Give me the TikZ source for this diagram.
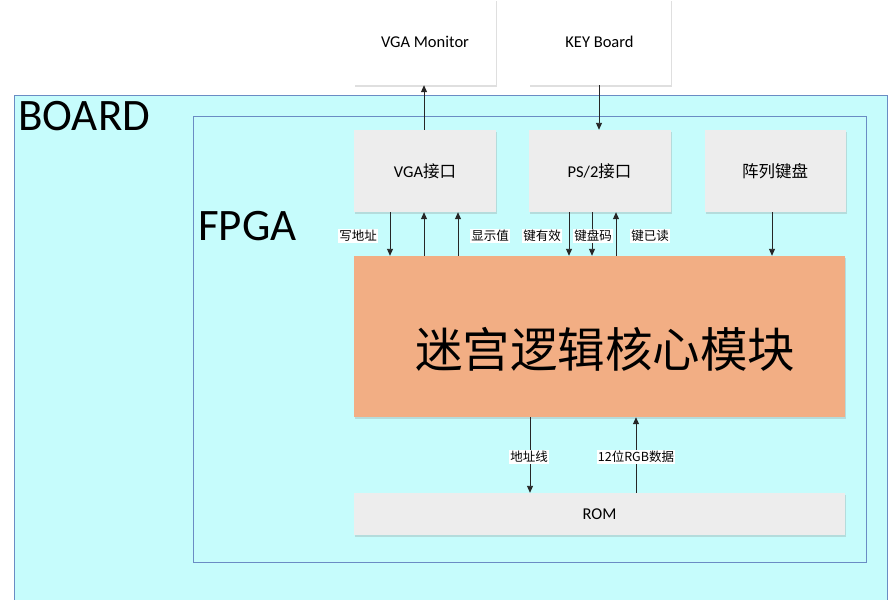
\documentclass[tikz,border=0pt]{standalone}
\usepackage{fontspec}
\setmainfont{Carlito}
\newfontfamily\cjk{Noto Sans CJK SC}
\usetikzlibrary{shadows,arrows.meta}
\definecolor{boardc}{HTML}{C6FCFC}
\definecolor{edgec}{HTML}{6A8CC4}
\definecolor{boxc}{HTML}{EDEDED}
\definecolor{corec}{HTML}{F2AE84}
\tikzset{
  blk/.style={draw=none, fill=boxc, drop shadow={shadow xshift=1pt, shadow yshift=-2pt, opacity=0.25}, inner sep=0pt, font=\fontsize{16.5}{18}\selectfont},
  wblk/.style={blk, fill=white},
  arr/.style={-{Triangle[length=7pt,width=6pt]}, line width=0.9pt, black!85},
  lab/.style={fill=white, inner sep=1pt, font=\cjk\fontsize{12.5}{14}\selectfont},
}
\begin{document}
\begin{tikzpicture}[x=1pt,y=-1pt]
\useasboundingbox (0,0) rectangle (895,600);
% board
\fill[boardc] (14,95) rectangle (887,600);
\draw[edgec, line width=0.8pt] (14,600) -- (14,95) -- (887,95) -- (887,600);
\node[anchor=west, font=\fontsize{45}{50}\selectfont, inner sep=0pt] (boardlab) at (18,116) {BOARD};
% fpga
\draw[edgec, line width=0.8pt] (193,116) rectangle (866,562);
\node[anchor=west, font=\fontsize{45}{50}\selectfont, inner sep=0pt] (fpgalab) at (198,226) {FPGA};
% external
\node[wblk, minimum width=142pt, minimum height=86pt] (mon) at (425,42) {VGA Monitor};
\node[wblk, minimum width=142pt, minimum height=86pt] (key) at (599.5,42) {KEY Board};
% interfaces
\node[blk, minimum width=142pt, minimum height=82pt] (vga) at (425,171) {VGA{\cjk 接口}};
\node[blk, minimum width=142pt, minimum height=82pt] (ps2) at (599.5,171) {PS/2{\cjk 接口}};
\node[blk, minimum width=141pt, minimum height=82pt, font=\cjk\fontsize{16.5}{18}\selectfont] (arr) at (775,171) {阵列键盘};
% core
\node[blk, fill=corec, minimum width=491pt, minimum height=161pt] (core) at (599.5,336.5) {};
\node[font=\cjk\fontsize{47.5}{52}\selectfont, inner sep=0pt] (coretxt) at (605,349) {迷宫逻辑核心模块};
% rom
\node[blk, minimum width=491pt, minimum height=42pt] (rom) at (599.5,514) {ROM};
% external arrows
\draw[arr] (vga.north -| 424,0) -- (mon.south -| 424,0);
\draw[arr] (key.south -| 599,0) -- (ps2.north -| 599,0);
% VGA signals
\draw[arr] (vga.south -| 390,0) -- (core.north -| 390,0);
\draw[arr] (core.north -| 424,0) -- (vga.south -| 424,0);
\draw[arr] (core.north -| 458,0) -- (vga.south -| 458,0);
\node[lab] (l1) at (358,236) {写地址};
\node[lab] (l2) at (490,236) {显示值};
% PS2 signals
\draw[arr] (ps2.south -| 569,0) -- (core.north -| 569,0);
\draw[arr] (ps2.south -| 592,0) -- (core.north -| 592,0);
\draw[arr] (core.north -| 616,0) -- (ps2.south -| 616,0);
\node[lab] (l3) at (542,236) {键有效};
\node[lab] (l4) at (593,236) {键盘码};
\node[lab] (l5) at (650,236) {键已读};
% keypad
\draw[arr] (arr.south -| 772,0) -- (core.north -| 772,0);
% ROM signals
\draw[arr] (core.south -| 530,0) -- (rom.north -| 530,0);
\draw[arr] (rom.north -| 636,0) -- (core.south -| 636,0);
\node[lab] (l6) at (529,457) {地址线};
\node[lab] (l7) at (636,457) {12位RGB数据};
\end{tikzpicture}
\end{document}
